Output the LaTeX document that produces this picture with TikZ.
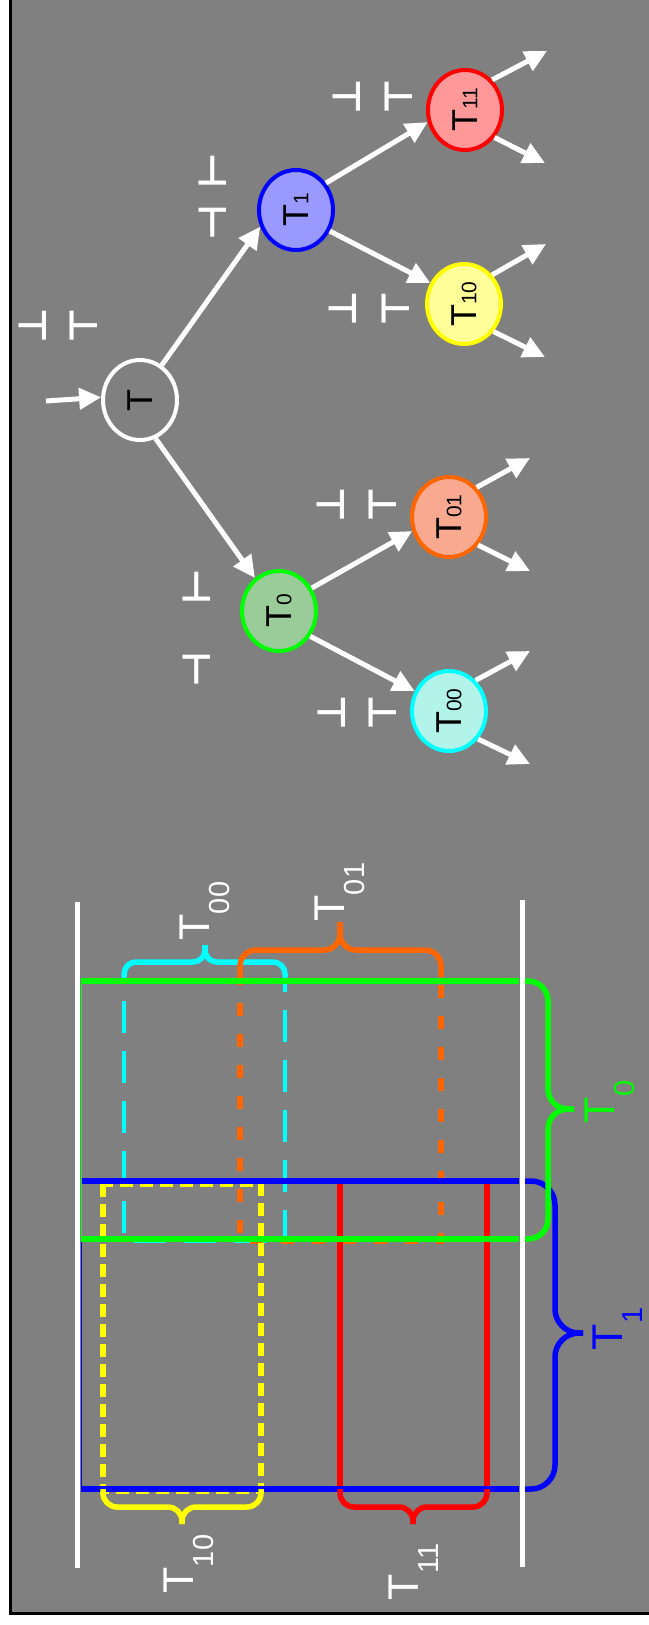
\documentclass[tikz,border=0pt]{standalone}
\usepackage{fontspec}
\usepackage{graphicx}
\setmainfont{Liberation Sans}
\newfontfamily\symfont{DejaVu Sans Bold}
\usetikzlibrary{arrows.meta,shapes.geometric}
\definecolor{panel}{HTML}{808080}
\definecolor{gline}{HTML}{00FF00}
\definecolor{bline}{HTML}{0000FF}
\definecolor{cline}{HTML}{00FFFF}
\definecolor{oline}{HTML}{FF6600}
\definecolor{yline}{HTML}{FFFF00}
\definecolor{rline}{HTML}{FF0000}
\definecolor{gfill}{HTML}{99CC99}
\definecolor{bfill}{HTML}{9999FF}
\definecolor{cfill}{HTML}{B3F4EA}
\definecolor{ofill}{HTML}{F9A98F}
\definecolor{yfill}{HTML}{FFFF99}
\definecolor{rfill}{HTML}{FF9999}
% node text: a large T with small digits on the same baseline
\newcommand\treelabel[1]{\rotatebox{90}{\fontsize{36}{36}\selectfont T\fontsize{21}{21}\selectfont #1}}
% interval label: T with lowered digits
\newcommand\spanlabel[1]{\fontsize{43}{43}\selectfont T\raisebox{-20pt}{\fontsize{29}{29}\selectfont #1}}
\begin{document}
\begin{tikzpicture}[x=1pt,y=-1pt,
  tnode/.style={ellipse, draw, line width=4pt, minimum width=74pt, minimum height=80pt, inner sep=0pt},
  arr/.style={draw=white, line width=5pt, -{Triangle[length=22pt,width=21pt]}},
  bar/.style={text=white, font=\symfont\fontsize{39}{39}\selectfont, rotate=90, inner sep=0pt},
  spanlbl/.style={rotate=90, inner sep=0pt},
  brace/.style={line width=5.5pt, rounded corners=#1},
  brace/.default=14pt]
\useasboundingbox (0,0) rectangle (648,1625);
\fill[white] (0,0) rectangle (648,1625);
\draw[fill=panel, line width=2.5pt] (10.5,-10) rectangle (660,1613.5);

% ---------------- tree ----------------
\node[tnode, draw=white] (root) at (140,400) {\rotatebox{90}{\fontsize{36}{36}\selectfont T}};
\node[tnode, draw=bline, fill=bfill] (t1) at (296,210) {\treelabel{1}};
\node[tnode, draw=gline, fill=gfill] (t0) at (279,611) {\treelabel{0}};
\node[tnode, draw=rline, fill=rfill] (t11) at (465,110) {\treelabel{11}};
\node[tnode, draw=yline, fill=yfill] (t10) at (464,304) {\treelabel{10}};
\node[tnode, draw=oline, fill=ofill] (t01) at (449,517) {\treelabel{01}};
\node[tnode, draw=cline, fill=cfill] (t00) at (449,711) {\treelabel{00}};

\coordinate (in) at (46,401);
\draw[arr] (in) -- (root.176);
\draw[arr] (root.58) -- (t1.205);
\draw[arr] (root.292) -- (t0.126);
\draw[arr] (t1.42) -- (t11.198);
\draw[arr] (t1.328) -- (t10.148);
\draw[arr] (t0.35) -- (t01.201);
\draw[arr] (t0.321) -- (t00.150);

\coordinate (o11a) at (547,51);  \coordinate (o11b) at (545,163);
\coordinate (o10a) at (546,244); \coordinate (o10b) at (545,357);
\coordinate (o01a) at (530,458); \coordinate (o01b) at (530,571);
\coordinate (o00a) at (530,651); \coordinate (o00b) at (530,764);
\draw[arr] (t11.48) -- (o11a); \draw[arr] (t11.317) -- (o11b);
\draw[arr] (t10.46) -- (o10a); \draw[arr] (t10.317) -- (o10b);
\draw[arr] (t01.47) -- (o01a); \draw[arr] (t01.316) -- (o01b);
\draw[arr] (t00.49) -- (o00a); \draw[arr] (t00.316) -- (o00b);

% bound marks beside the nodes
\node[bar] (rb1) at (33,326) {⊥};  \node[bar] (rb2) at (84,326) {⊤};
\node[bar] (b1a) at (213,171) {⊢}; \node[bar] (b1b) at (213,223) {⊣};
\node[bar] (b0a) at (197,587) {⊢}; \node[bar] (b0b) at (197,670) {⊣};
\node[bar] (b11a) at (347,97) {⊥};  \node[bar] (b11b) at (399,97) {⊤};
\node[bar] (b10a) at (343,309) {⊥}; \node[bar] (b10b) at (396,309) {⊤};
\node[bar] (b01a) at (331,505) {⊥}; \node[bar] (b01b) at (383,505) {⊤};
\node[bar] (b00a) at (332,713) {⊥}; \node[bar] (b00b) at (383,713) {⊤};

% ---------------- intervals ----------------
% dashed sub-intervals
\draw[cline, line width=4.5pt, dash pattern=on 32pt off 18pt, dash phase=26pt]
  (124,977) -- (124,1241) -- (285,1241) -- (285,977);
\draw[oline, line width=5.5pt, dash pattern=on 13pt off 18pt, dash phase=5pt]
  (240,977) -- (240,1241) -- (441,1241) -- (441,977);
\draw[yline, line width=6.5pt, dash pattern=on 13pt off 7pt]
  (103,1184) rectangle (261,1491);
\draw[rline, line width=5.5pt] (340,1184) -- (340,1489) (487,1184) -- (487,1489);

% T1 block
\draw[bline, line width=1.5pt] (81.5,1181) -- (81.5,1489);
\draw[bline, line width=6.5pt] (80.5,1181) -- (519,1181) (80.5,1489) -- (519,1489);
% T0 block
\draw[gline, line width=1.5pt] (81.5,981) -- (81.5,1239);
\draw[gline, line width=6pt] (80.5,981) -- (519,981) (80.5,1239) -- (519,1239);

% braces
\draw[cline, brace=12pt] (124,977) -- (124,962) -- (205,962) -- (205,945);
\draw[cline, brace=12pt] (205,945) -- (205,962) -- (285,962) -- (285,977);
\draw[oline, brace=16pt] (240,977) -- (240,950) -- (340,950) -- (340,922);
\draw[oline, brace=16pt] (340,922) -- (340,950) -- (441,950) -- (441,977);
\draw[yline, brace=14pt] (103,1489) -- (103,1507) -- (182,1507) -- (182,1524);
\draw[yline, brace=14pt] (182,1524) -- (182,1507) -- (261,1507) -- (261,1489);
\draw[rline, brace=14pt] (340,1489) -- (340,1507) -- (413,1507) -- (413,1524);
\draw[rline, brace=14pt] (413,1524) -- (413,1507) -- (487,1507) -- (487,1489);
\draw[bline, brace=24pt] (521,1181) -- (555,1181) -- (555,1333) -- (583,1333);
\draw[bline, brace=24pt] (583,1333) -- (555,1333) -- (555,1489) -- (521,1489);
\draw[gline, brace=20pt] (521,981) -- (548,981) -- (548,1109) -- (574,1109);
\draw[gline, brace=20pt] (574,1109) -- (548,1109) -- (548,1239) -- (521,1239);

% outer bounds
\draw[white, line width=5pt] (77.5,902) -- (77.5,1568);
\draw[white, line width=5pt] (522.5,900) -- (522.5,1567);

% interval names
\node[spanlbl, text=white] (l00) at (205,911) {\spanlabel{00}};
\node[spanlbl, text=white] (l01) at (340,892) {\spanlabel{01}};
\node[spanlbl, text=white] (l10) at (189,1564) {\spanlabel{10}};
\node[spanlbl, text=white] (l11) at (414,1572) {\spanlabel{11}};
\node[spanlbl, text=gline] (l0) at (610,1102) {\spanlabel{0}};
\node[spanlbl, text=bline] (l1) at (618,1329) {\spanlabel{1}};
\end{tikzpicture}
\end{document}
